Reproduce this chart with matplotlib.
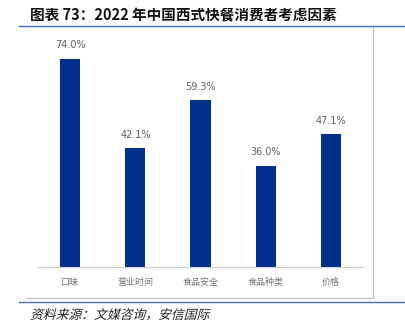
import matplotlib.pyplot as plt
from matplotlib.lines import Line2D
from matplotlib.textpath import TextPath
from matplotlib.patches import PathPatch
from matplotlib.font_manager import FontProperties
from matplotlib.transforms import Affine2D

plt.rcParams['font.family'] = ['Noto Sans CJK SC', 'DejaVu Sans']

factors = ['口味', '营业时间', '食品安全', '食品种类', '价格']
shares = [74.0, 42.1, 59.3, 36.0, 47.1]

title = '图表 73：2022 年中国西式快餐消费者考虑因素'
source = '资料来源：文媒咨询，安信国际'

W, H = 406, 325
fig = plt.figure(figsize=(W / 100, H / 100), dpi=100)

# plot area: baseline at y=267px, 2.816 px per percentage point
base_px = 267
top_px = base_px - 80 * 2.816
ax = fig.add_axes([37.7 / W, (H - base_px) / H, 325.6 / W, (base_px - top_px) / H])
bars = ax.bar(range(len(factors)), shares, width=0.31, color='#00308C')
ax.set_xlim(-0.5, len(factors) - 0.5)
ax.set_ylim(0, 80)
ax.set_yticks([])
for s in ['top', 'left', 'right']:
    ax.spines[s].set_visible(False)
ax.spines['bottom'].set_color('#d0d0d0')
ax.spines['bottom'].set_linewidth(0.8)
ax.set_xticks(range(len(factors)))
ax.set_xticklabels(factors, fontsize=6.5, color='#777777')
ax.tick_params(axis='x', length=0, pad=8)

for i, v in enumerate(shares):
    ax.annotate(f'{v:.1f}%', (i, v), xytext=(0, 6), textcoords='offset points',
                ha='center', va='bottom', fontsize=7, color='#606060',
                family=['Liberation Sans Narrow', 'DejaVu Sans'])

# title and rules
fig.text(30 / W, 1 - 15 / H, title, fontsize=10.5, fontweight='bold',
         va='center', ha='left', color='#111111')
fig.add_artist(Line2D([19 / W, 1], [1 - 25.5 / H] * 2, color='#4a6bb5', lw=1.0))
fig.add_artist(Line2D([19 / W, 1], [1 - 302 / H] * 2, color='#4a6bb5', lw=1.0))

# light frame around the chart
fig.add_artist(Line2D([373 / W, 373 / W], [1 - 27 / H, 1 - 298 / H], color='#bbbbbb', lw=0.8))
fig.add_artist(Line2D([27 / W, 373 / W], [1 - 298 / H] * 2, color='#bbbbbb', lw=0.8))

# slanted source note
fp = FontProperties(family='Noto Sans CJK SC')
tp = TextPath((0, 0), source, size=12.8, prop=fp)
tr = Affine2D().skew_deg(15, 0).translate(30, H - 319)
fig.add_artist(PathPatch(tr.transform_path(tp), transform=None, color='#222222', lw=0))

fig.savefig('out.png', dpi=100)
